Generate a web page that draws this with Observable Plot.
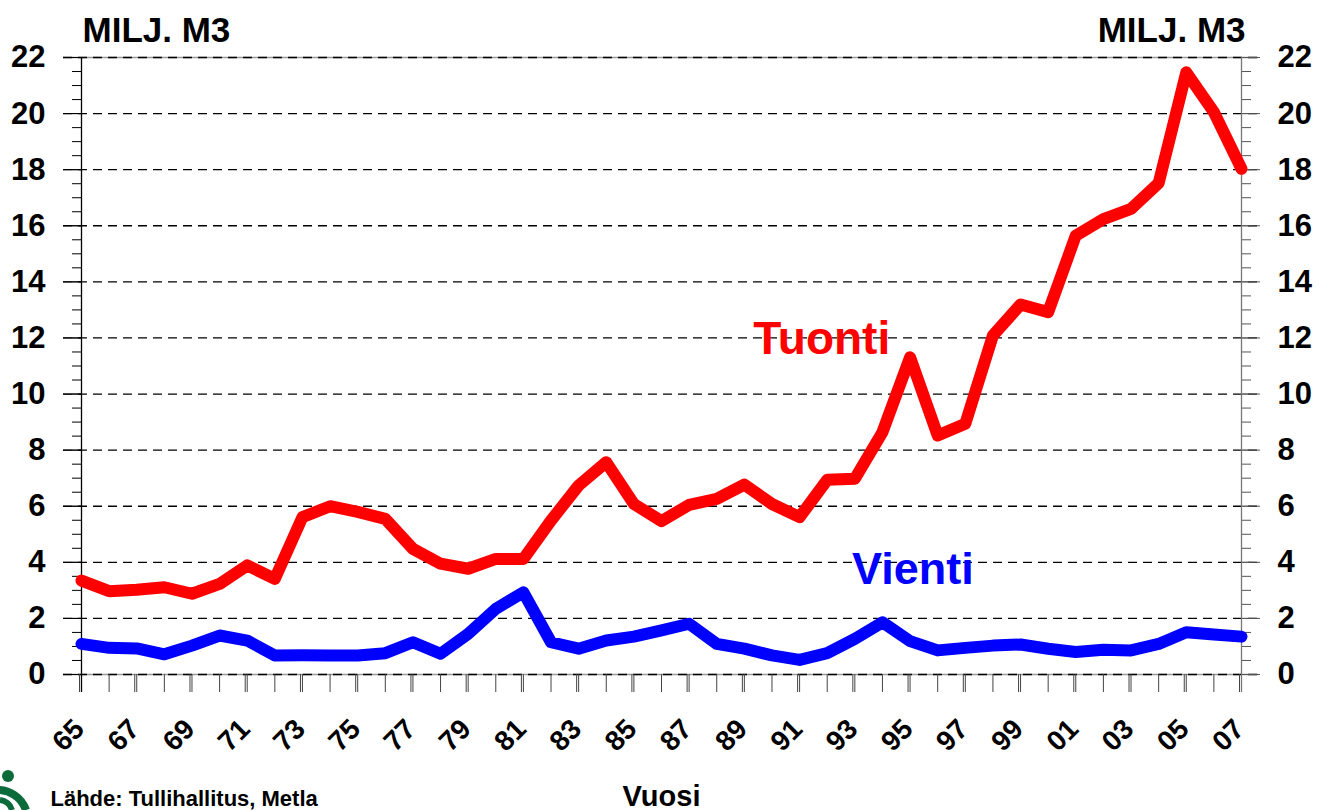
<!DOCTYPE html>
<html><head><meta charset="utf-8">
<script src="https://cdn.jsdelivr.net/npm/d3@7"></script>
<script src="https://cdn.jsdelivr.net/npm/@observablehq/plot@0.6"></script>
<style>body{margin:0;background:#fff;} svg{display:block}</style>
</head><body><div id="chart"></div>
<script>
const years = [1965,1966,1967,1968,1969,1970,1971,1972,1973,1974,1975,1976,1977,1978,1979,1980,1981,1982,1983,1984,1985,1986,1987,1988,1989,1990,1991,1992,1993,1994,1995,1996,1997,1998,1999,2000,2001,2002,2003,2004,2005,2006,2007];
const tuonti = [3.35,2.97,3.02,3.11,2.88,3.23,3.89,3.41,5.61,6.0,5.8,5.55,4.48,3.95,3.77,4.12,4.12,5.49,6.74,7.57,6.08,5.47,6.05,6.26,6.77,6.08,5.61,6.94,6.98,8.64,11.31,8.52,8.94,12.09,13.19,12.92,15.65,16.24,16.6,17.52,21.47,20.05,18.03];
const vienti = [1.09,0.95,0.93,0.72,1.03,1.39,1.21,0.68,0.69,0.68,0.68,0.76,1.15,0.74,1.45,2.34,2.93,1.15,0.92,1.21,1.35,1.57,1.81,1.09,0.92,0.68,0.52,0.76,1.27,1.86,1.19,0.86,0.95,1.03,1.07,0.92,0.8,0.88,0.86,1.09,1.51,1.43,1.35];
const yTicks = [0,2,4,6,8,10,12,14,16,18,20,22];
const xLabelYears = [1965,1967,1969,1971,1973,1975,1977,1979,1981,1983,1985,1987,1989,1991,1993,1995,1997,1999,2001,2003,2005,2007];
const seriesNames = ["Tuonti","Vienti"];
const seriesColors = ["#ff0000","#0000ff"];
const unitLabel = "MILJ. M3";
const xTitle = "Vuosi";
const sourceText = "Lähde: Tullihallitus, Metla";

const data = [];
years.forEach((y,i) => { data.push({year:y, value:tuonti[i], s:"Tuonti"}); data.push({year:y, value:vienti[i], s:"Vienti"}); });
const yMinor = d3.range(0, 22.01, 0.5);
const fmt2 = d => String(d % 100).padStart(2, "0");
const font = "'Liberation Sans', Arial, Helvetica, sans-serif";

const chart = Plot.plot({
  width: 1332, height: 810,
  marginLeft: 81, marginRight: 91, marginTop: 57, marginBottom: 136,
  style: {fontFamily: font, background: "#fff", overflow: "visible"},
  x: {domain: [1965, 2007]},
  y: {domain: [0, 22]},
  color: {domain: seriesNames, range: seriesColors},
  marks: [
    Plot.ruleY([0, 22], {stroke: "#999", strokeWidth: 1.5, insetLeft: -18, insetRight: -17}),
    Plot.ruleY(yTicks, {stroke: "#000", strokeWidth: 1.3, strokeDasharray: "9,6", insetLeft: -18, insetRight: -17}),
    Plot.axisY({anchor: "left", ticks: yMinor, tickSize: 9, tickFormat: () => "", label: null, stroke: "#000"}),
    Plot.axisY({anchor: "right", ticks: yMinor, tickSize: 9, tickFormat: () => "", label: null, stroke: "#555"}),
    Plot.axisY({anchor: "left", ticks: yTicks, tickSize: 18, tickPadding: 18, fontSize: 31, fontWeight: "bold", label: null, stroke: "#000"}),
    Plot.axisY({anchor: "right", ticks: yTicks, tickSize: 18, tickPadding: 18, fontSize: 31, fontWeight: "bold", label: null, stroke: "#555"}),
    Plot.axisX({ticks: years, tickSize: 18, tickFormat: () => "", label: null, stroke: "#444"}),
    Plot.axisX({ticks: xLabelYears, tickSize: 18, tickPadding: 32, tickRotate: -45, dx: -2, tickFormat: fmt2, fontSize: 28, fontWeight: "bold", label: null, stroke: "#444"}),
    Plot.ruleX([1965], {stroke: "#000", strokeWidth: 1.3, insetBottom: -18}),
    Plot.ruleX([2007], {stroke: "#777", strokeWidth: 1.3, insetBottom: -18}),
    Plot.line(data, {x: "year", y: "value", z: "s", stroke: "s", strokeWidth: 12, strokeLinecap: "round", strokeLinejoin: "round"}),
    Plot.text([seriesNames[0]], {x: 1991.8, y: 11.44, text: d => d, fill: seriesColors[0], fontSize: 46, fontWeight: "bold", lineAnchor: "bottom"}),
    Plot.text([seriesNames[1]], {x: 1995.1, y: 3.24, text: d => d, fill: seriesColors[1], fontSize: 45, fontWeight: "bold", lineAnchor: "bottom"}),
    Plot.text([unitLabel], {frameAnchor: "top-left", textAnchor: "start", lineAnchor: "bottom", dx: 1, dy: -16, text: d => d, fontSize: 35, fontWeight: "bold"}),
    Plot.text([unitLabel], {frameAnchor: "top-right", textAnchor: "end", lineAnchor: "bottom", dx: 4, dy: -16, text: d => d, fontSize: 35, fontWeight: "bold"}),
    Plot.text([xTitle], {frameAnchor: "bottom", lineAnchor: "bottom", dy: 131, text: d => d, fontSize: 29, fontWeight: "bold"}),
    Plot.text([sourceText], {frameAnchor: "bottom-left", textAnchor: "start", lineAnchor: "bottom", dx: -31, dy: 131, text: d => d, fontSize: 22, fontWeight: "bold"})
  ]
});
document.getElementById("chart").appendChild(chart);
// small green logo decoration at bottom-left
const svg = d3.select(chart);
const g = svg.append("g").attr("fill", "none").attr("stroke", "#0b6b3a");
g.append("circle").attr("cx", 8).attr("cy", 776).attr("r", 6).attr("fill", "#0b6b3a").attr("stroke", "none");
g.append("path").attr("d", "M -4 790 A 30 30 0 0 1 26 810").attr("stroke-width", 8);
g.append("path").attr("d", "M 0 800 A 14 14 0 0 1 12 810").attr("stroke-width", 6);
</script>
</body></html>
